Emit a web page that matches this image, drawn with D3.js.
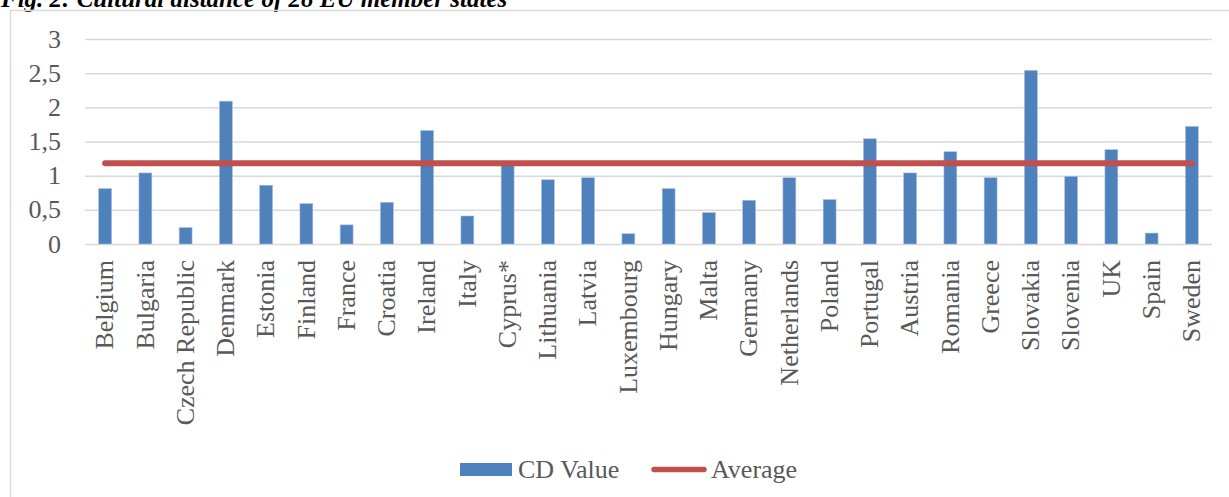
<!DOCTYPE html>
<html>
<head>
<meta charset="utf-8">
<script src="https://cdnjs.cloudflare.com/ajax/libs/d3/7.8.5/d3.min.js"></script>
<style>
	html, body { margin: 0; padding: 0; background: #fff; overflow: hidden; }
	svg { display: block; }
	text { font-family: 'Liberation Serif', 'Times New Roman', serif; }
	.grid line { stroke: #D9D9D9; stroke-width: 1.5; }
	.grid path { display: none; }
	.axis text { fill: #595959; font-size: 26px; }
	.legend text { fill: #595959; font-size: 26px; }
</style>
</head>
<body>
<div id="chart"></div>
<script>
// Chart data
var COUNTRIES = [
	'Belgium', 'Bulgaria', 'Czech Republic', 'Denmark', 'Estonia', 'Finland',
	'France', 'Croatia', 'Ireland', 'Italy', 'Cyprus*', 'Lithuania', 'Latvia',
	'Luxembourg', 'Hungary', 'Malta', 'Germany', 'Netherlands', 'Poland',
	'Portugal', 'Austria', 'Romania', 'Greece', 'Slovakia', 'Slovenia', 'UK',
	'Spain', 'Sweden'
];
var CD_VALUES = [
	0.81, 1.04, 0.24, 2.09, 0.86, 0.59,
	0.28, 0.61, 1.66, 0.41, 1.19, 0.94, 0.97,
	0.15, 0.81, 0.46, 0.64, 0.97, 0.65,
	1.54, 1.04, 1.35, 0.97, 2.54, 0.99, 1.38,
	0.16, 1.72
];
var AVERAGE_VALUES = COUNTRIES.map(function() { return 1.18; });
var Y_TICKS = [0, 0.5, 1, 1.5, 2, 2.5, 3];
var SERIES_NAMES = ['CD Value', 'Average'];
var TITLE = 'Fig. 2: Cultural distance of 28 EU member states';

var COLORS = {
	bar: '#4F81BD',
	line: '#C0504D'
};

var WIDTH = 1229;
var HEIGHT = 497;

/*
 * Render the chart.
 */
var render = function() {
	var margins = { top: 39, left: 85, right: 17, bottom: 253 };
	var chartWidth = WIDTH - margins.left - margins.right;
	var chartHeight = HEIGHT - margins.top - margins.bottom;

	var data = COUNTRIES.map(function(c, i) {
		return { name: c, value: CD_VALUES[i], avg: AVERAGE_VALUES[i] };
	});

	var svg = d3.select('#chart')
		.append('svg')
		.attr('width', WIDTH)
		.attr('height', HEIGHT);

	// Title, cut off by the top edge
	svg.append('text')
		.attr('x', 1)
		.attr('y', 7)
		.attr('font-size', '25px')
		.attr('font-weight', 'bold')
		.attr('font-style', 'italic')
		.attr('fill', '#000')
		.text(TITLE);

	// Chart frame
	svg.append('rect')
		.attr('x', 10.5)
		.attr('y', 10.5)
		.attr('width', WIDTH)
		.attr('height', HEIGHT)
		.attr('fill', 'none')
		.attr('stroke', '#D9D9D9')
		.attr('stroke-width', 1.5);

	var chartElement = svg.append('g')
		.attr('transform', 'translate(' + margins.left + ',' + margins.top + ')');

	/*
	 * Scales
	 */
	var xScale = d3.scaleBand()
		.domain(COUNTRIES)
		.range([0, chartWidth])
		.paddingInner(0.68)
		.paddingOuter(0.34);

	var yScale = d3.scaleLinear()
		.domain([0, 3])
		.range([chartHeight, 0]);

	/*
	 * Grid and y axis labels
	 */
	chartElement.append('g')
		.attr('class', 'grid')
		.call(d3.axisLeft(yScale)
			.tickValues(Y_TICKS)
			.tickSize(-chartWidth)
			.tickFormat(''));

	chartElement.append('g')
		.attr('class', 'y axis')
		.selectAll('text')
		.data(Y_TICKS)
		.enter()
		.append('text')
		.attr('x', -24)
		.attr('y', function(d) { return yScale(d); })
		.attr('dy', '0.33em')
		.attr('text-anchor', 'end')
		.text(function(d) { return String(d).replace('.', ','); });

	/*
	 * Bars
	 */
	chartElement.append('g')
		.selectAll('rect')
		.data(data)
		.enter()
		.append('rect')
		.attr('x', function(d) { return xScale(d.name); })
		.attr('y', function(d) { return yScale(d.value); })
		.attr('width', xScale.bandwidth())
		.attr('height', function(d) { return yScale(0) - yScale(d.value); })
		.attr('fill', COLORS.bar)
		.attr('stroke', '#A7BFDE')
		.attr('stroke-width', 0.6);

	/*
	 * Average line
	 */
	var line = d3.line()
		.x(function(d) { return xScale(d.name) + xScale.bandwidth() / 2; })
		.y(function(d) { return yScale(d.avg); });

	chartElement.append('path')
		.datum(data)
		.attr('d', line)
		.attr('fill', 'none')
		.attr('stroke', COLORS.line)
		.attr('stroke-width', 6)
		.attr('stroke-linecap', 'round');

	/*
	 * X axis labels (rotated)
	 */
	chartElement.append('g')
		.attr('class', 'x axis')
		.selectAll('text')
		.data(data)
		.enter()
		.append('text')
		.attr('transform', function(d) {
			var cx = xScale(d.name) + xScale.bandwidth() / 2;
			return 'translate(' + cx + ',' + (chartHeight + 16) + ') rotate(-90)';
		})
		.attr('dy', '0.32em')
		.attr('text-anchor', 'end')
		.text(function(d) { return d.name; });

	/*
	 * Legend
	 */
	var legend = svg.append('g')
		.attr('class', 'legend');

	legend.append('rect')
		.attr('x', 460)
		.attr('y', 463)
		.attr('width', 52)
		.attr('height', 13)
		.attr('fill', COLORS.bar);

	legend.append('text')
		.attr('x', 518)
		.attr('y', 478)
		.text(SERIES_NAMES[0]);

	legend.append('line')
		.attr('x1', 654)
		.attr('x2', 704)
		.attr('y1', 469.5)
		.attr('y2', 469.5)
		.attr('stroke', COLORS.line)
		.attr('stroke-width', 5.5)
		.attr('stroke-linecap', 'round');

	legend.append('text')
		.attr('x', 711)
		.attr('y', 478)
		.text(SERIES_NAMES[1]);
};

render();
</script>
</body>
</html>
